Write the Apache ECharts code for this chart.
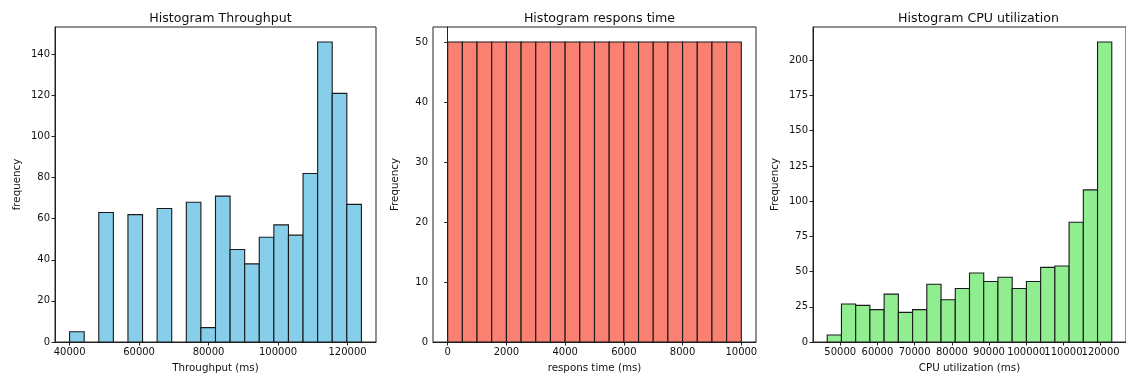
<!DOCTYPE html>
<html>
<head>
<meta charset="utf-8">
<script src="https://cdn.jsdelivr.net/npm/echarts@6/dist/echarts.min.js"></script>
<style>
html,body{margin:0;padding:0;background:#fff;}
#chart{width:1126px;height:378px;}
</style>
</head>
<body>
<div id="chart"></div>
<script>
// ---- Data ----
const throughputEdges = [40000, 44200, 48400, 52600, 56800, 61000, 65200, 69400, 73600, 77800, 82000, 86200, 90400, 94600, 98800, 103000, 107200, 111400, 115600, 119800, 124000];
const throughputCounts = [5, 0, 63, 0, 62, 0, 65, 0, 68, 7, 71, 45, 38, 51, 57, 52, 82, 146, 121, 67];
const throughputXTicks = [40000, 60000, 80000, 100000, 120000];
const throughputYTicks = [0, 20, 40, 60, 80, 100, 120, 140];

const responseEdges = [0, 500, 1000, 1500, 2000, 2500, 3000, 3500, 4000, 4500, 5000, 5500, 6000, 6500, 7000, 7500, 8000, 8500, 9000, 9500, 10000];
const responseCounts = [50, 50, 50, 50, 50, 50, 50, 50, 50, 50, 50, 50, 50, 50, 50, 50, 50, 50, 50, 50];
const responseXTicks = [0, 2000, 4000, 6000, 8000, 10000];
const responseYTicks = [0, 10, 20, 30, 40, 50];

const cpuEdges = [46500, 50325, 54150, 57975, 61800, 65625, 69450, 73275, 77100, 80925, 84750, 88575, 92400, 96225, 100050, 103875, 107700, 111525, 115350, 119175, 123000];
const cpuCounts = [5, 27, 26, 23, 34, 21, 23, 41, 30, 38, 49, 43, 46, 38, 43, 53, 54, 85, 108, 213];
const cpuXTicks = [50000, 60000, 70000, 80000, 90000, 100000, 110000, 120000];
const cpuYTicks = [0, 25, 50, 75, 100, 125, 150, 175, 200];

const titles = ['Histogram Throughput', 'Histogram respons time', 'Histogram CPU utilization'];
const xNames = ['Throughput (ms)', 'respons time (ms)', 'CPU utilization (ms)'];
const yNames = ['frequency', 'Frequency', 'Frequency'];

// ---- Layout / style ----
const FONT = 'DejaVu Sans';
const TXT = '#111';
const panels = [
  {edges: throughputEdges, counts: throughputCounts, xt: throughputXTicks, yt: throughputYTicks,
   xmin: 35800, xmax: 128200, ymax: 153.3, color: '#87CEEB',
   grid: {left: 55, right: 750, top: 27, bottom: 36}, titleX: 215.5},
  {edges: responseEdges, counts: responseCounts, xt: responseXTicks, yt: responseYTicks,
   xmin: -500, xmax: 10500, ymax: 52.5, color: '#FA8072',
   grid: {left: 433, right: 370, top: 27, bottom: 36}, titleX: 594.5},
  {edges: cpuEdges, counts: cpuCounts, xt: cpuXTicks, yt: cpuYTicks,
   xmin: 42675, xmax: 126825, ymax: 223.65, color: '#90EE90',
   grid: {left: 813, right: -8, top: 27, bottom: 36}, titleX: 973.5}
];

function binData(edges, counts) {
  const out = [];
  for (let i = 0; i < counts.length; i++) {
    if (counts[i] > 0) out.push([edges[i], edges[i + 1], counts[i]]);
  }
  return out;
}

const option = {
  animation: false,
  backgroundColor: '#fff',
  title: [], grid: [], xAxis: [], yAxis: [], series: []
};

const labelStyle = {fontFamily: FONT, fontSize: 10, color: TXT, margin: 5,
  showMinLabel: true, showMaxLabel: true, hideOverlap: false, formatter: v => String(v)};

panels.forEach((p, i) => {
  option.title.push({
    text: titles[i], left: p.titleX, top: 7, textAlign: 'center',
    textStyle: {fontFamily: FONT, fontSize: 12.6, fontWeight: 'normal', color: TXT}
  });
  option.grid.push(Object.assign({show: true, borderColor: '#222', borderWidth: 1, backgroundColor: 'transparent'}, p.grid));
  // split labels across two axes so that crowded labels are all drawn
  const evenLabels = p.xt.filter((v, k) => k % 2 === 0);
  const oddLabels = p.xt.filter((v, k) => k % 2 === 1);
  const mainIndex = option.xAxis.length;
  option.xAxis.push({
    type: 'value', gridIndex: i, min: p.xmin, max: p.xmax, position: 'bottom',
    name: xNames[i], nameLocation: 'middle', nameGap: 21,
    nameTextStyle: {fontFamily: FONT, fontSize: 10.3, color: TXT},
    splitLine: {show: false},
    axisLine: {show: true, onZero: false, lineStyle: {color: '#222', width: 1}},
    axisTick: {show: true, length: 3.5, customValues: p.xt, lineStyle: {color: '#222'}},
    axisLabel: Object.assign({customValues: evenLabels}, labelStyle)
  });
  option.xAxis.push({
    type: 'value', gridIndex: i, min: p.xmin, max: p.xmax, position: 'bottom', offset: 0,
    splitLine: {show: false},
    axisLine: {show: false, onZero: false},
    axisTick: {show: false},
    axisLabel: Object.assign({customValues: oddLabels}, labelStyle)
  });
  option.yAxis.push({
    type: 'value', gridIndex: i, min: 0, max: p.ymax,
    name: yNames[i], nameLocation: 'middle', nameGap: 33,
    nameTextStyle: {fontFamily: FONT, fontSize: 10.3, color: TXT},
    splitLine: {show: false},
    axisLine: {show: true, lineStyle: {color: '#222', width: 1}},
    axisTick: {show: true, length: 3.5, customValues: p.yt, lineStyle: {color: '#222'}},
    axisLabel: Object.assign({customValues: p.yt}, labelStyle)
  });
  option.series.push({
    type: 'custom', xAxisIndex: mainIndex, yAxisIndex: i,
    data: binData(p.edges, p.counts),
    encode: {x: [0, 1], y: 2},
    renderItem: function (params, api) {
      const a = api.coord([api.value(0), api.value(2)]);
      const b = api.coord([api.value(1), 0]);
      return {
        type: 'rect',
        shape: {x: a[0], y: a[1], width: b[0] - a[0], height: b[1] - a[1]},
        style: {fill: p.color, stroke: '#1a1a1a', lineWidth: 1.1}
      };
    }
  });
});

const chart = echarts.init(document.getElementById('chart'), null, {renderer: 'canvas'});
chart.setOption(option);
</script>
</body>
</html>
